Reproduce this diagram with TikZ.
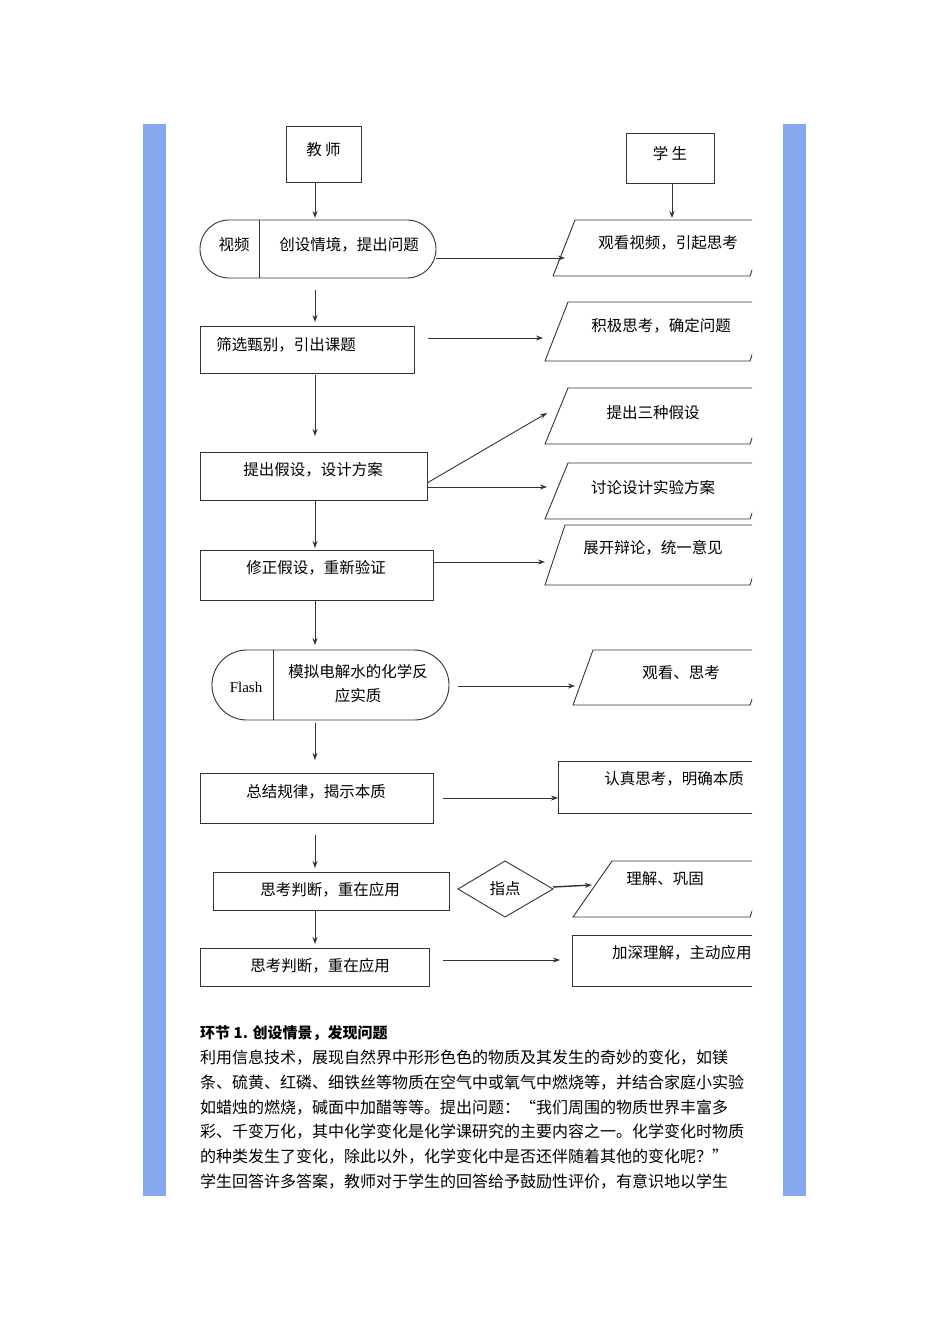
\documentclass[tikz,border=0pt]{standalone}
\usepackage{fontspec}
\setmainfont{Noto Sans CJK SC}
\newfontfamily\lserif{Liberation Serif}
\usetikzlibrary{shapes.geometric,arrows.meta}
\definecolor{barblue}{RGB}{135,168,238}
\tikzset{
 bx/.style={draw=black!80,line width=0.9pt},
 lbl/.style={font=\fontsize{15.5}{17}\selectfont,inner sep=0pt},
 arr/.style={-{Stealth[length=7pt,width=5pt]},line width=0.9pt,draw=black!80}
}
\begin{document}
\begin{tikzpicture}[x=1pt,y=-1pt]
\useasboundingbox (0,0) rectangle (950,1344);
\fill[white] (0,0) rectangle (950,1344);
\fill[barblue] (143,124) rectangle (166,1196);
\fill[barblue] (783,124) rectangle (806,1196);
% teacher / student
\draw[bx] (286,126) rectangle (361,182); \node[lbl] (t) at (323.5,150) {教 师};
\draw[bx] (626,133) rectangle (714,183); \node[lbl] (s) at (670,154) {学 生};
\coordinate (tb) at (315,182); \coordinate (tb2) at (315,218);
\coordinate (sb) at (672,183); \coordinate (sb2) at (672,218);
\draw[arr] (tb)--(tb2); \draw[arr] (sb)--(sb2);
% terminator 1
\draw[bx,rounded corners=28.9pt] (200,220) rectangle (436,278);
\draw[bx] (259,220)--(259,278);
\node[lbl] (v) at (234,245) {视频};
\node[lbl] (c1) at (349,245) {创设情境，提出问题};
\begin{scope}
\clip (0,0) rectangle (752,1344);
\draw[bx] (575,220)--(770,220)--(750,276)--(553,276)--cycle;
\draw[bx] (568,302)--(770,302)--(750,361)--(545,361)--cycle;
\draw[bx] (568,388)--(770,388)--(750,444)--(545,444)--cycle;
\draw[bx] (568,463)--(770,463)--(750,519)--(545,519)--cycle;
\draw[bx] (565,525)--(770,525)--(750,585)--(545,585)--cycle;
\draw[bx] (593,650)--(770,650)--(750,705)--(573,705)--cycle;
\draw[bx] (558,761) rectangle (780,813);
\draw[bx] (612,861)--(770,861)--(750,917)--(573,917)--cycle;
\draw[bx] (572,935) rectangle (780,986);
\node[lbl,anchor=west] (r9) at (612,953) {加深理解，主动应用};
\end{scope}
\node[lbl] (r1) at (668,243) {观看视频，引起思考};
\node[lbl] (r2) at (661,326) {积极思考，确定问题};
\node[lbl] (r3) at (653,413) {提出三种假设};
\node[lbl] (r4) at (653,488) {讨论设计实验方案};
\node[lbl] (r5) at (653,548) {展开辩论，统一意见};
\node[lbl] (r6) at (681,673) {观看、思考};
\node[lbl] (r7) at (674,779) {认真思考，明确本质};
\node[lbl] (r8) at (665,879) {理解、巩固};
\coordinate (a1) at (436,258); \coordinate (a1e) at (565,258);
\draw[arr] (a1)--(a1e);
% box 2
\coordinate (d1) at (315,290); \coordinate (d1e) at (315,322); \draw[arr] (d1)--(d1e);
\draw[bx] (200,326) rectangle (414,373); \node[lbl] (b2) at (286,345) {筛选甄别，引出课题};
\coordinate (a2) at (428,338); \coordinate (a2e) at (543,338); \draw[arr] (a2)--(a2e);
\coordinate (d2) at (315,375); \coordinate (d2e) at (315,436); \draw[arr] (d2)--(d2e);
\draw[bx] (200,452) rectangle (427,500); \node[lbl] (b3) at (313,470) {提出假设，设计方案};
\coordinate (a3) at (427,483); \coordinate (a3e) at (547,413); \draw[arr] (a3)--(a3e);
\coordinate (a4) at (427,487); \coordinate (a4e) at (547,487); \draw[arr] (a4)--(a4e);
\coordinate (d3) at (315,500); \coordinate (d3e) at (315,548); \draw[arr] (d3)--(d3e);
\draw[bx] (200,550) rectangle (433,600); \node[lbl] (b4) at (316,568) {修正假设，重新验证};
\coordinate (a5) at (433,562); \coordinate (a5e) at (545,562); \draw[arr] (a5)--(a5e);
\coordinate (d4) at (315,600); \coordinate (d4e) at (315,645); \draw[arr] (d4)--(d4e);
% terminator 2
\draw[bx,rounded corners=34.9pt] (212,650) rectangle (449,720);
\draw[bx] (273,650)--(273,720);
\node[font=\lserif\fontsize{15}{17}\selectfont,inner sep=0pt] (fl) at (246,687) {Flash};
\node[lbl] (m1) at (358,672) {模拟电解水的化学反};
\node[lbl] (m2) at (358,696) {应实质};
\coordinate (a6) at (458,686); \coordinate (a6e) at (575,686); \draw[arr] (a6)--(a6e);
\coordinate (d5) at (315,723); \coordinate (d5e) at (315,760); \draw[arr] (d5)--(d5e);
\draw[bx] (200,773) rectangle (433,823); \node[lbl] (b5) at (316,792) {总结规律，揭示本质};
\coordinate (a7) at (443,798); \coordinate (a7e) at (558,798); \draw[arr] (a7)--(a7e);
\coordinate (d6) at (315,835); \coordinate (d6e) at (315,868); \draw[arr] (d6)--(d6e);
\draw[bx] (213,872) rectangle (449,910); \node[lbl] (b6) at (330,890) {思考判断，重在应用};
\draw[bx] (458,889)--(505,861)--(553,889)--(505,917)--cycle;
\node[lbl] (zd) at (505,889) {指点};
\coordinate (a8) at (553,887); \coordinate (a8e) at (592,885);
\draw[arr,line width=1.4pt] (a8)--(a8e);
\coordinate (d7) at (315,910); \coordinate (d7e) at (315,944); \draw[arr] (d7)--(d7e);
\draw[bx] (200,948) rectangle (429,986); \node[lbl] (b7) at (320,966) {思考判断，重在应用};
\coordinate (a9) at (443,960); \coordinate (a9e) at (560,960); \draw[arr] (a9)--(a9e);
% text
\tikzset{tl/.style={anchor=west,inner sep=0pt,font=\fontsize{16}{18}\selectfont}}
\node[tl,font=\bfseries\fontsize{15}{18}\selectfont] (h) at (200,1033) {环节 1. 创设情景，发现问题};
\node[tl] (l1) at (200,1058) {利用信息技术，展现自然界中形形色色的物质及其发生的奇妙的变化，如镁};
\node[tl] (l2) at (200,1083) {条、硫黄、红磷、细铁丝等物质在空气中或氧气中燃烧等，并结合家庭小实验};
\node[tl] (l3) at (200,1108) {如蜡烛的燃烧，碱面中加醋等等。提出问题：“我们周围的物质世界丰富多};
\node[tl] (l4) at (200,1132) {彩、千变万化，其中化学变化是化学课研究的主要内容之一。化学变化时物质};
\node[tl] (l5) at (200,1157) {的种类发生了变化，除此以外，化学变化中是否还伴随着其他的变化呢？”};
\node[tl] (l6) at (200,1182) {学生回答许多答案，教师对于学生的回答给予鼓励性评价，有意识地以学生};
\end{tikzpicture}
\end{document}
